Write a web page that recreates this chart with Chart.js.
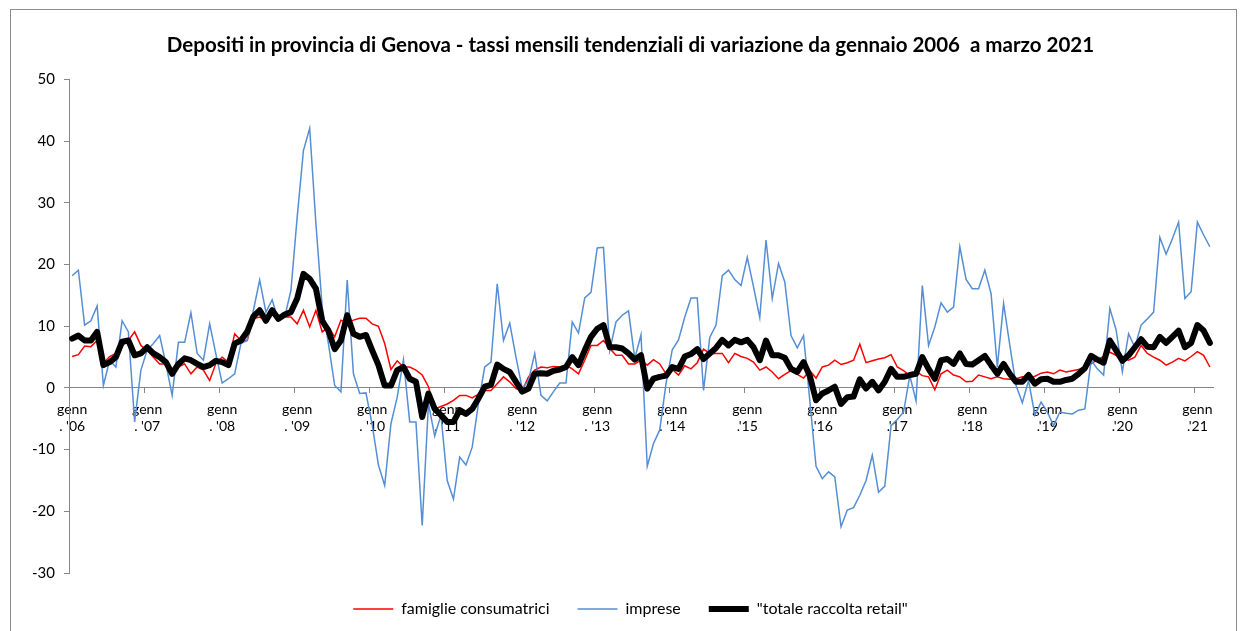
<!DOCTYPE html>
<html>
<head>
<meta charset="utf-8">
<title>Depositi in provincia di Genova</title>
<script src="https://cdn.jsdelivr.net/npm/chart.js@4.4.1/dist/chart.umd.min.js"></script>
<style>
  html, body { margin: 0; padding: 0; background: #fff; }
  canvas { display: block; }
</style>
</head>
<body>
<canvas id="chart" width="1243" height="631"></canvas>
<script>
// monthly data, gen 2006 - mar 2021 (one row per year)
const famiglie = [
  5.1, 5.4, 6.8, 6.7, 7.7, 4.0, 5.1, 5.6, 6.9, 7.7, 9.1, 6.9,
  6.1, 5.0, 3.9, 3.9, 3.1, 3.4, 3.9, 2.3, 3.4, 2.9, 1.2, 4.0,
  5.0, 4.2, 8.8, 7.7, 7.7, 11.2, 11.5, 10.9, 12.6, 11.0, 11.5, 11.5,
  10.4, 12.6, 9.9, 12.6, 9.1, 9.9, 8.3, 11.0, 10.6, 11.0, 11.3, 11.3,
  10.4, 10.0, 7.2, 3.0, 4.4, 3.4, 3.4, 2.9, 2.1, 0.2, -3.4, -3.0,
  -2.6, -2.0, -1.2, -1.2, -1.6, -1.0, -0.4, -0.4, 0.7, 1.8, 1.0, -0.1,
  -0.4, 1.8, 2.9, 3.4, 3.3, 3.5, 3.4, 3.7, 3.1, 2.3, 4.5, 6.9,
  6.9, 7.7, 6.4, 5.3, 5.3, 3.9, 3.9, 4.5, 3.7, 4.6, 3.9, 2.3,
  3.0, 2.1, 3.6, 3.1, 4.1, 6.3, 5.6, 5.6, 5.6, 4.1, 5.6, 5.1,
  4.8, 4.2, 2.9, 3.4, 2.6, 1.5, 2.2, 2.8, 2.2, 1.6, 2.8, 1.6,
  3.4, 3.7, 4.5, 3.8, 4.1, 4.5, 7.1, 4.1, 4.4, 4.7, 4.9, 5.4,
  3.4, 2.8, 2.0, 2.7, 2.0, 1.8, -0.3, 2.3, 2.9, 2.1, 1.8, 1.0,
  1.1, 2.1, 1.8, 1.5, 1.8, 1.5, 1.4, 1.5, 1.8, 1.5, 1.9, 2.4,
  2.6, 2.3, 2.9, 2.6, 2.8, 3.0, 3.4, 3.9, 4.6, 5.1, 5.8, 5.3,
  4.8, 4.5, 5.0, 6.9, 5.6, 5.0, 4.5, 3.7, 4.2, 4.8, 4.4, 5.1,
  5.9, 5.3, 3.4
];
const imprese = [
  18.2, 19.1, 10.2, 10.9, 13.3, 0.4, 4.5, 3.4, 10.9, 9.1, -5.5, 2.9,
  6.1, 7.2, 8.5, 3.9, -1.2, 7.4, 7.4, 12.2, 5.6, 4.5, 10.4, 5.5,
  0.8, 1.5, 2.3, 7.2, 7.7, 12.6, 17.5, 12.3, 14.3, 10.9, 11.5, 15.8,
  27.7, 38.5, 42.1, 26.6, 13.1, 7.2, 0.4, -0.6, 17.5, 2.3, -0.9, -0.8,
  -6.0, -12.5, -15.8, -5.8, -1.5, 4.6, -5.5, -5.5, -22.3, -2.5, -7.8, -4.4,
  -15.0, -18.0, -11.2, -12.5, -9.6, -2.5, 3.4, 4.2, 16.9, 7.7, 10.5, 5.0,
  -0.1, 1.2, 5.6, -1.2, -2.1, -0.6, 0.8, 0.8, 10.7, 8.9, 14.6, 15.5,
  22.7, 22.8, 6.1, 10.7, 11.8, 12.5, 4.8, 8.6, -12.7, -9.0, -6.8, 0.7,
  6.2, 7.8, 11.5, 14.6, 14.6, -0.4, 8.2, 10.2, 18.2, 19.1, 17.6, 16.6,
  21.2, 16.4, 11.4, 24.0, 14.5, 20.2, 17.2, 8.5, 6.5, 8.5, -2.0, -12.7,
  -14.7, -13.6, -14.4, -22.5, -19.8, -19.4, -17.4, -15.0, -10.9, -16.9, -15.9, -6.1,
  -5.1, -3.9, 2.0, -2.1, 16.6, 6.9, 9.9, 13.8, 12.3, 13.1, 22.9, 17.6,
  16.1, 16.1, 19.1, 15.3, 3.4, 13.7, 6.9, 0.4, -2.4, 1.2, -4.4, -2.3,
  -3.9, -6.1, -3.9, -4.1, -4.2, -3.6, -3.4, 4.5, 3.1, 2.1, 12.9, 9.4,
  2.6, 8.8, 6.6, 10.2, 11.2, 12.3, 24.4, 21.7, 24.2, 26.9, 14.5, 15.6,
  26.9, 24.8, 22.9
];
const totaleRetail = [
  8.0, 8.5, 7.7, 7.7, 9.1, 3.7, 4.2, 5.0, 7.5, 7.7, 5.3, 5.6,
  6.6, 5.6, 5.0, 4.2, 2.3, 3.9, 4.8, 4.5, 3.9, 3.4, 3.7, 4.4,
  4.2, 3.7, 7.2, 7.7, 9.1, 11.6, 12.6, 10.9, 12.6, 11.2, 11.9, 12.3,
  14.5, 18.5, 17.7, 16.1, 10.9, 9.3, 6.3, 7.7, 11.8, 8.8, 8.3, 8.6,
  6.1, 3.7, 0.4, 0.4, 2.9, 3.4, 1.5, 1.0, -4.7, -0.9, -3.4, -4.4,
  -5.5, -5.5, -3.6, -4.2, -3.4, -1.7, 0.2, 0.5, 3.8, 3.1, 2.6, 1.0,
  -0.6, -0.1, 2.3, 2.4, 2.3, 2.8, 3.0, 3.4, 5.0, 3.7, 6.1, 8.3,
  9.6, 10.2, 6.6, 6.6, 6.4, 5.6, 4.6, 5.3, -0.1, 1.5, 1.8, 2.0,
  3.4, 3.1, 5.1, 5.5, 6.3, 4.7, 5.6, 6.5, 7.8, 6.9, 7.8, 7.4,
  7.8, 6.6, 4.5, 7.7, 5.3, 5.3, 4.9, 3.1, 2.6, 4.2, 2.0, -2.0,
  -0.9, -0.4, 0.2, -2.6, -1.5, -1.4, 1.4, -0.1, 1.0, -0.4, 1.0, 3.1,
  1.8, 1.8, 2.1, 2.3, 5.0, 3.1, 1.5, 4.5, 4.7, 3.9, 5.6, 3.9,
  3.8, 4.5, 5.2, 3.7, 2.3, 3.9, 2.3, 1.0, 1.0, 2.1, 0.7, 1.4,
  1.5, 1.0, 1.0, 1.3, 1.5, 2.3, 3.2, 5.2, 4.6, 4.1, 7.7, 6.1,
  4.4, 5.3, 6.6, 7.9, 6.7, 6.6, 8.3, 7.3, 8.3, 9.3, 6.6, 7.3,
  10.2, 9.3, 7.3
];

const years = [2006, 2007, 2008, 2009, 2010, 2011, 2012, 2013, 2014, 2015, 2016, 2017, 2018, 2019, 2020, 2021];
const yearLabels = [". '06", ". '07", ". '08", ". '09", ". '10", ". '11", ". '12", ". '13",
                    ". '14", ".'15", ".'16", ".'17", ".'18", ".'19", ".'20", ".'21"];
const monthLabel = 'genn';
const yTicks = { min: -30, max: 50, step: 10 };

const months = [];
years.forEach(y => {
  for (let m = 1; m <= 12; m++) months.push(y + '-' + String(m).padStart(2, '0'));
});
months.length = famiglie.length;

const FONT = 'Lato, "Liberation Sans", sans-serif';
const AXIS = '#868686';

// white page + outer frame like the Excel chart area
const frame = {
  id: 'frame',
  beforeDraw(chart) {
    const c = chart.ctx;
    c.save();
    c.fillStyle = '#fff';
    c.fillRect(0, 0, chart.width, chart.height);
    c.strokeStyle = '#8c8c8c';
    c.lineWidth = 1;
    c.strokeRect(10.5, 9.5, 1226, 700);
    c.restore();
  }
};

new Chart(document.getElementById('chart'), {
  type: 'line',
  data: {
    labels: months,
    datasets: [
      { label: 'famiglie consumatrici', data: famiglie, borderColor: '#ff0000', backgroundColor: '#ff0000', borderWidth: 1.5, order: 3 },
      { label: 'imprese', data: imprese, borderColor: '#558ed5', backgroundColor: '#558ed5', borderWidth: 1.5, order: 2 },
      { label: '"totale raccolta retail"', data: totaleRetail, borderColor: '#000', backgroundColor: '#000', borderWidth: 6,
        borderJoinStyle: 'round', borderCapStyle: 'round', order: 1 }
    ]
  },
  options: {
    responsive: false,
    animation: false,
    elements: { point: { radius: 0 }, line: { tension: 0 } },
    layout: { padding: { left: 30, right: 12, top: 0, bottom: 4 } },
    plugins: {
      title: {
        display: true,
        text: 'Depositi in provincia di Genova - tassi mensili tendenziali di variazione da gennaio 2006  a marzo 2021',
        color: '#000',
        font: { family: FONT, size: 20.5, weight: 'bold' },
        padding: { top: 33, bottom: 22 }
      },
      legend: {
        position: 'bottom',
        labels: {
          usePointStyle: true,
          pointStyle: 'line',
          pointStyleWidth: 40,
          padding: 28,
          color: '#000',
          font: { family: FONT, size: 16 },
          sort: (a, b) => a.datasetIndex - b.datasetIndex
        }
      },
      tooltip: { enabled: false }
    },
    scales: {
      x: {
        position: { y: 0 },
        offset: true,
        grid: {
          offset: true,
          drawOnChartArea: false,
          tickLength: 5,
          color: c => (c.index % 12 === 0 ? AXIS : 'rgba(0,0,0,0)')
        },
        border: { color: AXIS },
        ticks: {
          autoSkip: false,
          maxRotation: 0,
          minRotation: 0,
          padding: 8,
          color: '#000',
          font: { family: FONT, size: 14 },
          callback: (v, i) => (i % 12 === 0 ? [monthLabel, yearLabels[i / 12]] : '')
        }
      },
      y: {
        min: yTicks.min,
        max: yTicks.max,
        ticks: { stepSize: yTicks.step, padding: 9, color: '#000', font: { family: FONT, size: 15 } },
        grid: { drawOnChartArea: false, tickLength: 5, color: AXIS },
        border: { color: AXIS },
        afterFit: s => { s.width = 39; }
      },
      spacer: {
        type: 'linear',
        position: 'right',
        grid: { display: false },
        ticks: { display: false },
        border: { display: false },
        afterFit: s => { s.width = 18; }
      }
    }
  },
  plugins: [frame]
});
</script>
</body>
</html>
